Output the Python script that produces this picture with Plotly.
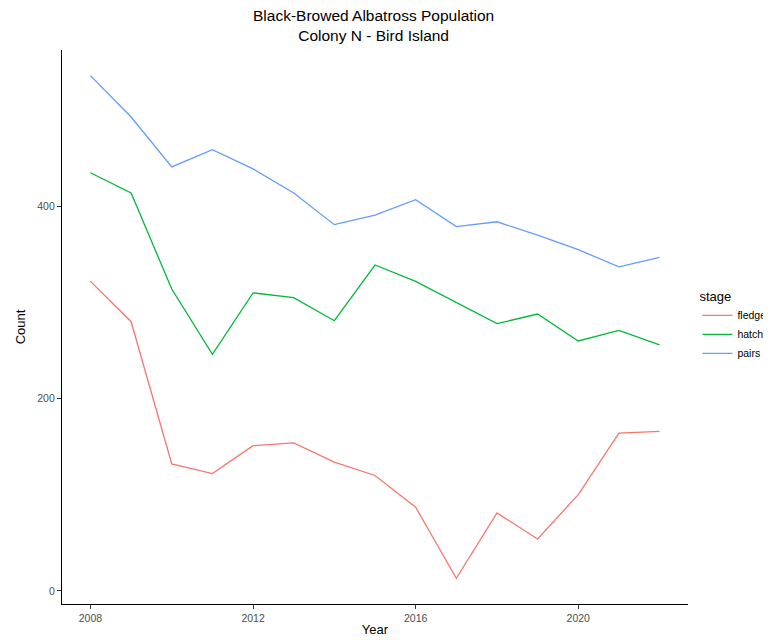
import plotly.graph_objects as go

years = list(range(2008, 2023))
fledged = [322, 280, 132, 122, 151, 154, 134, 120, 87, 13, 81, 54, 100, 164, 166]
hatched = [435, 414, 314, 246, 310, 305, 281, 339, 322, 300, 278, 288, 260, 271, 256]
pairs = [536, 493, 441, 459, 439, 414, 381, 391, 407, 379, 384, 370, 355, 337, 347]

title_lines = ["Black-Browed Albatross Population", "Colony N - Bird Island"]
series = [("fledged", fledged, "#F8766D"), ("hatched", hatched, "#00BA38"), ("pairs", pairs, "#619CFF")]

fig = go.Figure()
for name, vals, col in series:
    fig.add_trace(go.Scatter(x=years, y=vals, mode="lines", name=name,
                             line=dict(color=col, width=1.3)))

axis_common = dict(showgrid=False, zeroline=False, showline=True, linecolor="black", linewidth=1.2,
                   ticks="outside", ticklen=4, tickcolor="#333333", tickwidth=1,
                   tickfont=dict(size=10.5, color="#4d4d4d"))

# page is rendered with an 8px body margin; figure sized to fit the 771x640 window
fig.update_layout(
    width=763, height=632,
    paper_bgcolor="white", plot_bgcolor="white",
    font=dict(family="Liberation Sans, Arial, sans-serif", color="black"),
    margin=dict(l=54, r=83, t=42, b=36, autoexpand=False),
    xaxis=dict(title=dict(text="Year", font=dict(size=13), standoff=2),
               range=[2007.3, 2022.7], tickvals=[2008, 2012, 2016, 2020], **axis_common),
    yaxis=dict(title=dict(text="Count", font=dict(size=13), standoff=8),
               range=[-13.7, 562.7], tickvals=[0, 200, 400], **axis_common),
    legend=dict(title=dict(text="stage", font=dict(size=13)), x=1.015, xanchor="left",
                y=0.502, yanchor="middle", font=dict(size=10.5), bgcolor="rgba(0,0,0,0)",
                tracegroupgap=0, itemwidth=30),
)

fig.add_annotation(text="<br>".join(title_lines), x=0.497, y=1.044, xref="paper", yref="paper",
                   xanchor="center", yanchor="middle", showarrow=False, align="center",
                   font=dict(size=15.5, color="black"))

fig.write_html("out.html")
